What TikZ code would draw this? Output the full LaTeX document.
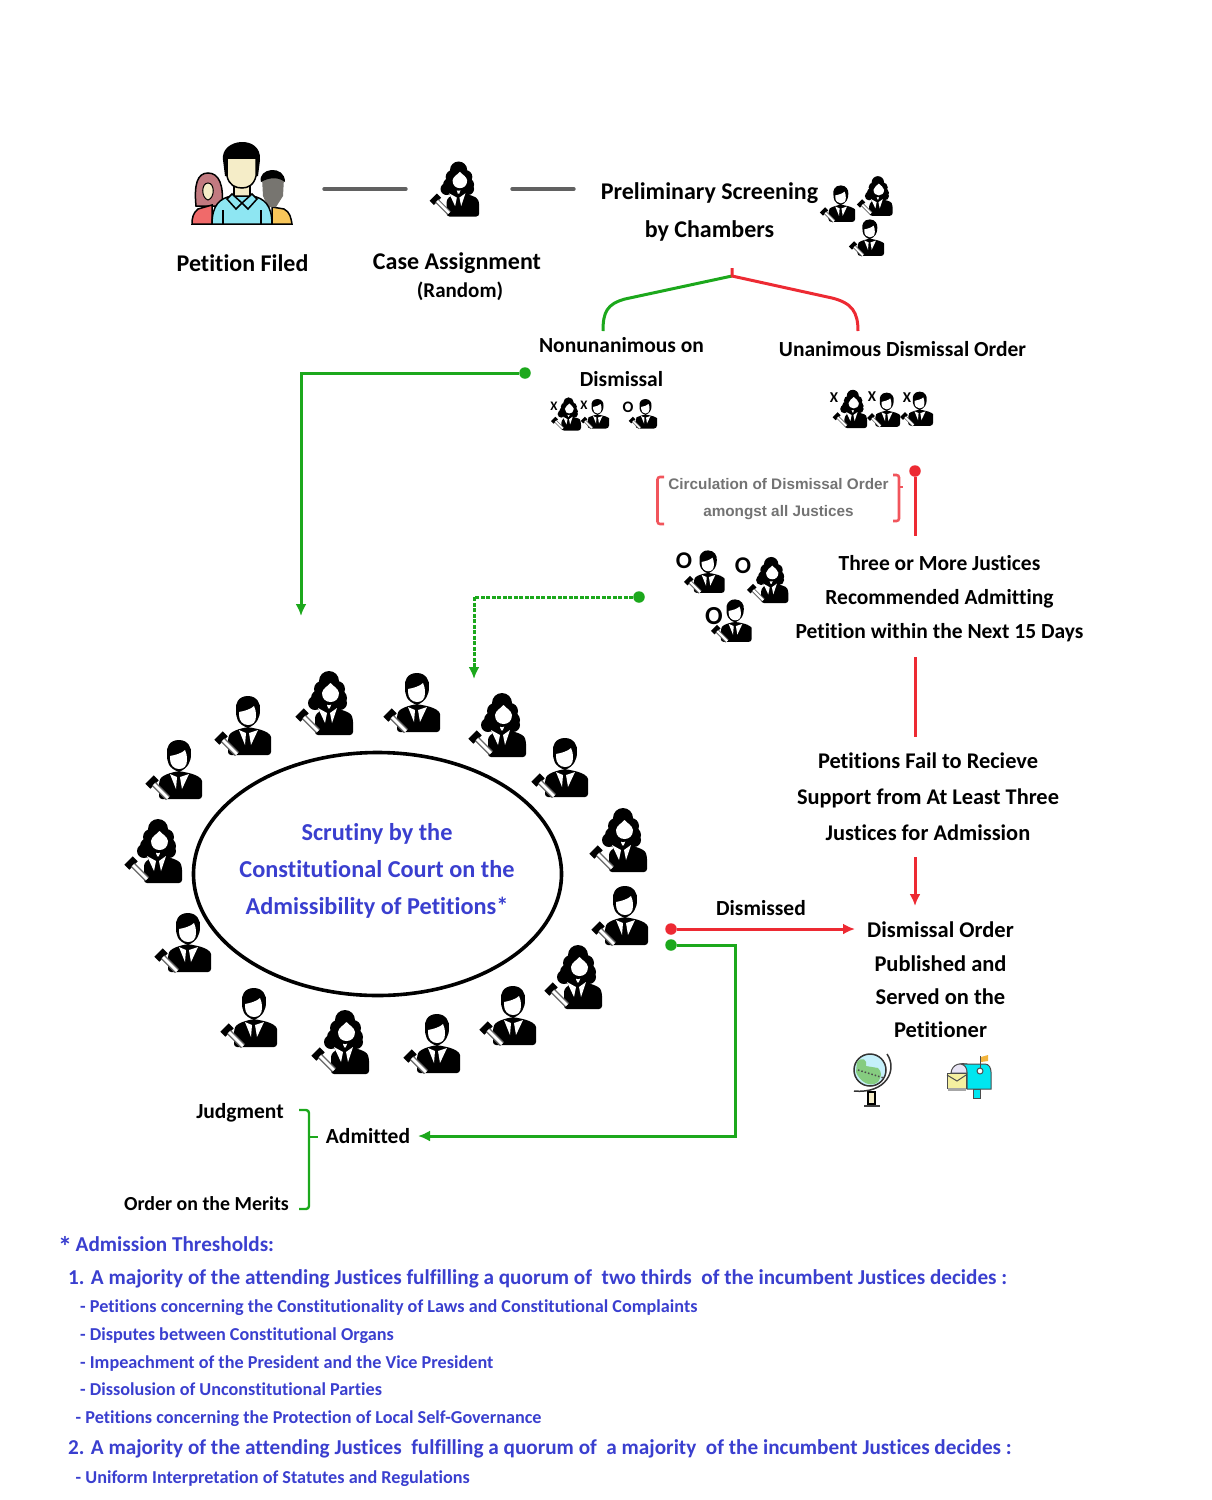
\documentclass[tikz,border=0pt]{standalone}
\usepackage{fontspec}
\setmainfont[Ligatures=NoCommon]{Carlito}
\newfontfamily\grayfont{Liberation Sans}
\usetikzlibrary{arrows.meta}

\definecolor{courtblue}{HTML}{3A3FCF}
\definecolor{okgreen}{HTML}{1CA81C}
\definecolor{nored}{HTML}{ED2A33}
\definecolor{shirtcyan}{HTML}{8EE6F2}
\definecolor{boxcyan}{HTML}{00E6F0}
\definecolor{skin}{HTML}{F5EDC8}
\definecolor{womanhair}{HTML}{C27A80}
\definecolor{womantop}{HTML}{F06A6A}
\definecolor{mantop}{HTML}{F8C65A}
\definecolor{manhair}{HTML}{777570}
\definecolor{globesky}{HTML}{C5F0FA}
\definecolor{globeland}{HTML}{86CC80}
\definecolor{letter}{HTML}{F5F0A0}
\definecolor{dome}{HTML}{E8E4F5}
\definecolor{flag}{HTML}{F2B43C}

\newcommand{\gavelicon}{
	\fill[black] (-30.7,13.7) -- (-25.7,18.7) -- (-17.3,10.3) -- (-22.3,5.3) -- cycle;
	\fill[black!60] (-20,12) -- (-6,26) -- (-10,30) -- (-24,16) -- cycle;
	\fill[white] (-21,13) -- (-7,27) -- (-9,29) -- (-23,15) -- cycle;
}

\tikzset{
	bigtext/.style={font=\fontsize{24}{38}\selectfont\bfseries,align=center,inner sep=0pt},
	steptext/.style={font=\fontsize{21.5}{34}\selectfont\bfseries,align=center,inner sep=0pt},
	bluetext/.style={font=\fontsize{24.3}{36.7}\selectfont\bfseries,align=center,inner sep=0pt,text=courtblue},
	notehead/.style={font=\fontsize{21.2}{24}\selectfont\bfseries,anchor=base west,inner sep=0pt,text=courtblue},
	notesub/.style={font=\fontsize{18.2}{20}\selectfont\bfseries,anchor=base west,inner sep=0pt,text=courtblue},
	votemark/.style={font=\fontsize{#1}{#1}\selectfont\bfseries,inner sep=0pt},
	greenline/.style={draw=okgreen,line width=3pt},
	redline/.style={draw=nored,line width=3pt},
	greydash/.style={draw=black!62,line width=3.4pt,line cap=round},
	dot/.style={circle,inner sep=0pt,minimum size=11.5pt},
	judgem/.pic={
		\fill[black,rounded corners=3pt] (-17,29) -- (-17,12) .. controls (-15,7) and (-11,5) .. (-6,3) -- (3,1) -- (13,3) .. controls (20,5) and (26,8) .. (26,14) -- (26,29) -- cycle;
		\fill[black] (3,-30) .. controls (-7,-30) and (-10,-22) .. (-9,-16) .. controls (-9,-8) and (-8,-2) .. (3,2) .. controls (12,-2) and (15,-8) .. (15,-16) .. controls (16,-22) and (12,-30) .. (3,-30) -- cycle;
		\fill[white] (-6,-14) .. controls (0,-15) and (6,-17) .. (9,-20) .. controls (10.5,-17) and (11,-14) .. (11,-10) .. controls (11,-4) and (8,-1) .. (3,-1) .. controls (-2,-1) and (-6,-5) .. (-6,-11) -- cycle;
		\fill[white] (-6,4) -- (1,7) -- (0,19) -- cycle;
		\fill[white] (13,4) -- (4,7) -- (6,19) -- cycle;
		\gavelicon
	},
	judgef/.pic={
		\fill[black,rounded corners=3pt] (-11,32) -- (-11,12) .. controls (-6,8) and (-2,6) .. (5,5) .. controls (12,6) and (24,8) .. (27,16) -- (27,32) -- cycle;
		\fill[black] (3,-22) circle (10) (-4,-14) circle (8) (11,-14) circle (8) (-7,-5) circle (8) (13,-5) circle (8) (-11,0) circle (7) (14,0) circle (7) (-3,5) circle (5) (9,5) circle (5) (3,-8) circle (10);
		\fill[white] (4.5,-20) .. controls (1,-16) and (-3,-15) .. (-4,-10) .. controls (-4,-4) and (0,-1) .. (4.5,-1) .. controls (9,-1) and (13,-4) .. (13,-10) .. controls (12,-15) and (8,-16) .. (4.5,-20) -- cycle;
		\fill[white] (-8,5) -- (1,10) -- (-1,20) -- cycle;
		\fill[white] (11,5) -- (4,10) -- (6,20) -- cycle;
		\gavelicon
	}
}

\begin{document}
\begin{tikzpicture}[x=1pt,y=-1pt]
	\useasboundingbox (0,0) rectangle (1211,1500);

	% petitioners
	\draw[black,line width=1.5pt,fill=mantop] (272,207) -- (284,209) .. controls (290,212) and (291,218) .. (292,224) -- (272,224) -- cycle;
	\fill[manhair] (262,178) -- (284,178) -- (283,196) -- (276,207) -- (268,207) -- (263,196) -- cycle;
	\fill[black] (261,182) .. controls (257,168) and (285,164) .. (285,182) .. controls (277,176) and (268,178) .. (261,182) -- cycle;
	\draw[black,line width=1.5pt,fill=womanhair] (208,173) .. controls (197,173) and (194,185) .. (196,206) -- (222,206) .. controls (224,185) and (219,173) .. (208,173) -- cycle;
	\draw[black,line width=1pt,fill=skin] (208,183) .. controls (201,183) and (201,198) .. (208,200) .. controls (215,198) and (215,183) .. (208,183) -- cycle;
	\draw[black,line width=1.5pt,fill=womantop] (212,205) -- (198,209) .. controls (193,213) and (192,218) .. (192,224) -- (212,224) -- cycle;
	\fill[black] (223,160) .. controls (220,138) and (262,134) .. (260,160) -- (258,176) -- (255,176) -- (255,158) -- (228,158) -- (228,176) -- (225,176) -- cycle;
	\draw[black,line width=1.5pt,fill=skin] (234,180) rectangle (250,198);
	\draw[black,line width=1.5pt,fill=skin] (227,158) -- (256,158) -- (256,176) .. controls (254,185) and (248,188) .. (242,188) .. controls (235,188) and (229,185) .. (227,176) -- cycle;
	\draw[black,line width=1.5pt,fill=shirtcyan] (212,224) .. controls (212,205) and (220,198) .. (232,196) -- (252,196) .. controls (264,198) and (272,205) .. (272,224) -- cycle;
	\draw[black,line width=1.5pt,fill=shirtcyan] (232,194) -- (242,203) -- (236,209) -- (227,199) -- cycle;
	\draw[black,line width=1.5pt,fill=shirtcyan] (252,194) -- (242,203) -- (248,209) -- (257,199) -- cycle;
	\draw[black,line width=1.5pt] (223,224) -- (223,210) (261,224) -- (261,210);

	\node[bigtext] (filed) at (242.5,263.5) {Petition Filed};
	\node[bigtext] (assign) at (457,263.5) {Case Assignment};
	\node[steptext,font=\fontsize{21}{24}\selectfont\bfseries] (random) at (460,291) {(Random)};
	\pic[scale=.86] at (456,189) {judgef};
	\coordinate (a1) at (324,189);
	\coordinate (a2) at (406,189);
	\coordinate (a3) at (512,189);
	\coordinate (a4) at (574,189);
	\draw[greydash] (a1) -- (a2);
	\draw[greydash] (a3) -- (a4);

	\node[bigtext] (screen) at (709.5,212) {Preliminary Screening\\by Chambers};
	\pic[scale=.62] at (839,204) {judgem};
	\pic[scale=.62] at (876,196) {judgef};
	\pic[scale=.62] at (868,238) {judgem};

	% split after screening
	\coordinate (s0) at (732,268);
	\coordinate (s1) at (732,276);
	\coordinate (s2) at (603,331);
	\coordinate (s3) at (858,331);
	\draw[greenline] (s1) -- (625,299) .. controls (607,304) and (603,312) .. (s2);
	\draw[redline] (s0) -- (s1) -- (832,298) .. controls (852,303) and (858,312) .. (s3);

	\node[steptext] (nonun) at (621.5,362.5) {Nonunanimous on\\Dismissal};
	\node[steptext] (unan) at (902.5,349.5) {Unanimous Dismissal Order};

	\pic[scale=.52] at (567,414) {judgef};
	\pic[scale=.5] at (596,414) {judgem};
	\pic[scale=.5] at (644,414) {judgem};
	\node[votemark=13] (n1) at (554,406) {X};
	\node[votemark=13] (n2) at (584,405) {X};
	\node[votemark=16] (n3) at (628,407) {O};

	\pic[scale=.6] at (851,409) {judgef};
	\pic[scale=.58] at (885,410) {judgem};
	\pic[scale=.58] at (918,409) {judgem};
	\node[votemark=15] (u1) at (834,398) {X};
	\node[votemark=15] (u2) at (872,397) {X};
	\node[votemark=15] (u3) at (907,398) {X};

	\node[font=\fontsize{15.3}{26.5}\selectfont\grayfont\bfseries,text=black!55,align=center,inner sep=0pt] (circ) at (778.5,499) {Circulation of Dismissal Order\\amongst all Justices};
	\draw[nored!80!white,line width=2.6pt,rounded corners=2.5pt] (664,477) -- (657.5,477) -- (657.5,524) -- (664,524);
	\draw[nored!80!white,line width=2.6pt,rounded corners=2.5pt] (893,475) -- (899,475) -- (899,521) -- (893,521);
	\draw[nored!80!white,line width=2pt] (899,487) -- (903,487);

	\node[dot,fill=nored] (r0) at (915,471) {};
	\coordinate (r1) at (915,536);
	\draw[redline] (r0) -- (r1);

	\pic[scale=.72] at (706,572) {judgem};
	\pic[scale=.72] at (769,580) {judgef};
	\pic[scale=.72] at (733,621) {judgem};
	\node[votemark=24] (o1) at (684,561) {O};
	\node[votemark=24] (o2) at (743,566) {O};
	\node[votemark=26] (o3) at (714,616) {O};

	\node[steptext] (three) at (939.5,599) {Three or More Justices\\Recommended Admitting\\Petition within the Next 15 Days};
	\coordinate (r2) at (915,657);
	\coordinate (r3) at (915,737);
	\draw[redline] (r2) -- (r3);
	\node[steptext,font=\fontsize{22.4}{36}\selectfont\bfseries] (fail) at (928,797) {Petitions Fail to Recieve\\Support from At Least Three\\Justices for Admission};
	\coordinate (r4) at (915,857);
	\coordinate (r5) at (915,906);
	\draw[redline,-{Latex[length=12pt,width=11pt]},nored] (r4) -- (r5);

	% to the court
	\node[dot,fill=okgreen] (g0) at (525,373) {};
	\coordinate (g1) at (301,373);
	\coordinate (g2) at (301,616);
	\draw[greenline,-{Latex[length=12pt,width=11pt]},okgreen] (g0) -- (g1) -- (g2);
	\node[dot,fill=okgreen] (d0) at (639,597) {};
	\coordinate (d1) at (474,597);
	\coordinate (d2) at (474,679);
	\draw[greenline,dash pattern=on 4pt off 1.5pt,-{Latex[length=12pt,width=11pt]},okgreen] (d0) -- (d1) -- (d2);

	% the court
	\draw[black,line width=3.6pt] (377.5,874) ellipse [x radius=184,y radius=121.5];
	\node[bluetext] (court) at (377,871) {Scrutiny by the\\Constitutional Court on the\\Admissibility of Petitions*};
	\foreach \px/\py in {176/770,245/726,414/703,562/768,622/916,510/1016,434/1044,251/1018,185/943}
		\pic at (\px,\py) {judgem};
	\foreach \px/\py in {326/703,499/725,620/840,575/977,342/1042,155/851}
		\pic at (\px,\py) {judgef};

	% result
	\node[dot,fill=nored] (x0) at (671,929) {};
	\coordinate (x1) at (855,929);
	\draw[redline,-{Latex[length=12pt,width=11pt]},nored] (x0) -- (x1);
	\node[steptext] (dism) at (761,908.5) {Dismissed};
	\node[steptext,font=\fontsize{22.5}{33.4}\selectfont\bfseries] (pub) at (940.5,980) {Dismissal Order\\Published and\\Served on the\\Petitioner};

	% globe
	\draw[black,line width=1.2pt,fill=skin] (868,1092) rectangle (875,1104);
	\draw[black!75,line width=2pt] (864,1105.5) -- (880,1105.5);
	\draw[black!80,line width=1.5pt,fill=globesky] (870,1070) circle (16);
	\fill[globeland] (857,1062) .. controls (862,1056) and (868,1060) .. (866,1066) -- (878,1068) .. controls (882,1072) and (882,1076) .. (878,1082) .. controls (870,1088) and (860,1082) .. (856,1072) -- cycle;
	\draw[black!70,line width=1.5pt,dotted] (858,1070) -- (884,1078);
	\draw[black!80,line width=1.5pt] (887,1054) .. controls (898,1070) and (886,1094) .. (854,1091);
	% mailbox
	\draw[black!70,line width=1pt,fill=dome] (951,1073) .. controls (952,1063) and (962,1063) .. (967,1064) -- (967,1073) -- cycle;
	\draw[black!70,line width=1pt,fill=letter] (947,1073) rectangle (966,1088);
	\draw[black!70,line width=1pt] (947,1075) -- (957,1081) -- (966,1075);
	\fill[black!35] (948,1088) rectangle (966,1091);
	\draw[black!70,line width=1pt,fill=boxcyan] (973,1089) rectangle (980,1098);
	\draw[black!70,line width=1pt,fill=boxcyan] (961,1064) -- (985,1064) .. controls (989,1064) and (991,1068) .. (991,1072) -- (991,1089) -- (967,1089) -- (967,1072) .. controls (967,1068) and (965,1065) .. (961,1064) -- cycle;
	\draw[black!70,line width=1pt,fill=white] (980,1071) circle (3);
	\draw[black!70,line width=1pt] (980,1068) -- (980,1056);
	\fill[flag] (981,1057) -- (988,1055) -- (988,1061) -- (981,1062) -- cycle;

	% admitted
	\node[dot,fill=okgreen] (y0) at (671,945) {};
	\coordinate (y1) at (735,945);
	\coordinate (y2) at (735,1136);
	\coordinate (y3) at (418,1136);
	\node[steptext] (adm) at (368,1136) {Admitted};
	\draw[greenline,-{Latex[length=12pt,width=11pt]},okgreen] (y0) -- (y1) -- (y2) -- (y3);
	\node[steptext] (judg) at (240,1112.5) {Judgment};
	\node[steptext,font=\fontsize{19.9}{24}\selectfont\bfseries] (merit) at (206.5,1204) {Order on the Merits};
	\draw[okgreen,line width=2.4pt,rounded corners=3pt] (299,1110) -- (309,1110) -- (309,1209) -- (299,1209);
	\draw[okgreen,line width=2.2pt] (309,1137) -- (318,1137);

	% thresholds
	\node[font=\fontsize{28}{28}\selectfont\bfseries,text=courtblue,inner sep=0pt,anchor=base west] (star) at (58,1256) {*};
	\node[notehead] (t0) at (75.5,1251) {Admission Thresholds:};
	\node[notehead] (t1) at (68,1284) {1. A majority of the attending Justices fulfilling a quorum of\ \ two thirds\ \ of the incumbent Justices decides :};
	\node[notesub] (t2) at (80,1312) {- Petitions concerning the Constitutionality of Laws and Constitutional Complaints};
	\node[notesub] (t3) at (80,1340) {- Disputes between Constitutional Organs};
	\node[notesub] (t4) at (80,1368) {- Impeachment of the President and the Vice President};
	\node[notesub] (t5) at (80,1395) {- Dissolusion of Unconstitutional Parties};
	\node[notesub] (t6) at (75.5,1423) {- Petitions concerning the Protection of Local Self-Governance};
	\node[notehead] (t7) at (68,1454) {2. A majority of the attending Justices\ \ fulfilling a quorum of\ \ a majority\ \ of the incumbent Justices decides :};
	\node[notesub] (t8) at (75.5,1483) {- Uniform Interpretation of Statutes and Regulations};
\end{tikzpicture}
\end{document}
